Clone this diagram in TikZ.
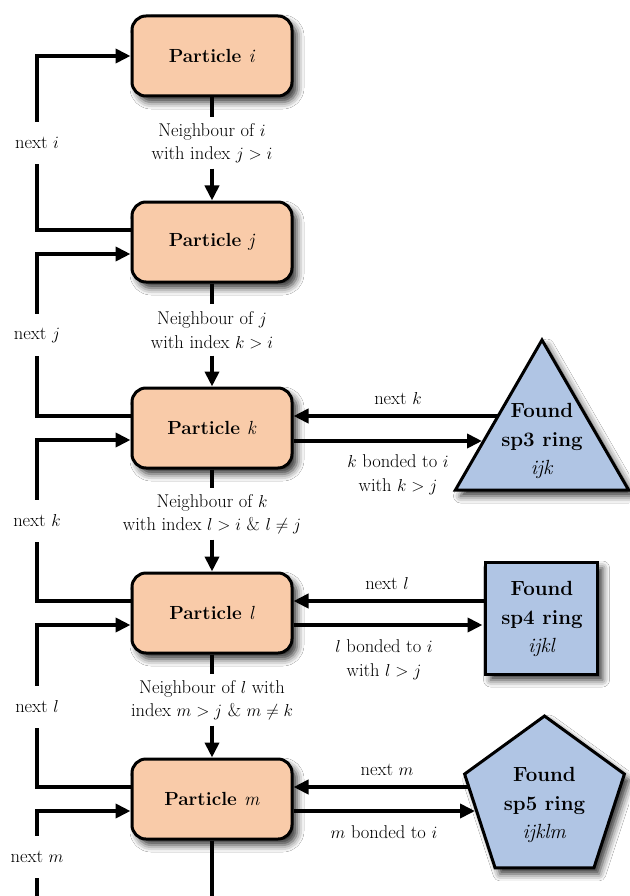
\documentclass[tikz,border=0pt]{standalone}
\usetikzlibrary{arrows.meta,shapes.geometric,calc,shadows.blur}
\definecolor{peach}{RGB}{249,203,169}
\definecolor{ringblue}{RGB}{176,197,228}
\newcommand{\mi}[1]{\textmd{\textit{#1}}}
\begin{document}
\begin{tikzpicture}[x=1pt,y=-1pt,
  shad/.style={blur shadow={shadow xshift=5pt, shadow yshift=-6pt, shadow blur radius=7pt, shadow opacity=80}},
  box/.style={draw=black, line width=3pt, fill=peach, rounded corners=14pt, minimum width=160pt, minimum height=80pt, inner sep=0pt, font=\fontsize{19}{23}\selectfont\bfseries, shad},
  ring/.style={draw=black, line width=3pt, fill=ringblue, inner sep=0pt, shad},
  ringtext/.style={font=\fontsize{20.5}{28.5}\selectfont, align=center, inner sep=0pt},
  lbl/.style={font=\fontsize{18.5}{23.5}\selectfont, align=center, inner xsep=2pt},
  nxt/.style={font=\fontsize{18.5}{23.5}\selectfont, inner sep=0pt, minimum height=42pt},
  ln/.style={line width=4pt},
  arr/.style={line width=4pt, -{Triangle[length=15pt,width=14pt]}}
]
\fill[white] (0,0) rectangle (629,896);
\useasboundingbox (0,0) rectangle (629,896);

% particle boxes
\node[box] (i) at (212,56) {Particle \mi{i}};
\node[box] (j) at (212,242) {Particle \mi{j}};
\node[box] (k) at (212,428) {Particle \mi{k}};
\node[box] (l) at (212,613) {Particle \mi{l}};
\node[box] (m) at (212,799) {Particle \mi{m}};

% ring shapes
\node[ring, regular polygon, regular polygon sides=3, minimum size=200pt] (t3) at (542,440) {};
\node[ringtext] (t3t) at (542,441) {\textbf{Found}\\\textbf{sp3 ring}\\\textit{ijk}};
\node[ring, rectangle, minimum size=112pt] (s4) at (541.5,618) {};
\node[ringtext] (s4t) at (542,619) {\textbf{Found}\\\textbf{sp4 ring}\\\textit{ijkl}};
\node[ring, regular polygon, regular polygon sides=5, minimum size=168pt] (p5) at (544.5,800) {};
\node[ringtext] (p5t) at (544.5,805) {\textbf{Found}\\\textbf{sp5 ring}\\\textit{ijklm}};

% down labels
\node[lbl, minimum height=51pt] (d1) at (212,143) {Neighbour of $i$\\with index $j>i$};
\node[lbl, minimum height=51pt] (d2) at (212,330) {Neighbour of $j$\\with index $k>i$};
\node[lbl, minimum height=51pt] (d3) at (212,514) {Neighbour of $k$\\with index $l>i$ \& $l\neq j$};
\node[lbl, minimum height=51pt] (d4) at (212,700) {Neighbour of $l$ with\\index $m>j$ \& $m\neq k$};
\coordinate (bot) at (212,896);

\draw[ln] (i.south) -- (d1.north);
\draw[arr] (d1.south) -- (j.north);
\draw[ln] (j.south) -- (d2.north);
\draw[arr] (d2.south) -- (k.north);
\draw[ln] (k.south) -- (d3.north);
\draw[arr] (d3.south) -- (l.north);
\draw[ln] (l.south) -- (d4.north);
\draw[arr] (d4.south) -- (m.north);
\draw[ln] (m.south) -- (bot);

% left loops
\node[nxt] (n1) at (37,143) {next $i$};
\node[nxt] (n2) at (37,335) {next $j$};
\node[nxt] (n3) at (37,521) {next $k$};
\node[nxt] (n4) at (37,707) {next $l$};
\node[nxt] (n5) at (37,857) {next $m$};
\coordinate (yj1) at (0,230);
\coordinate (yj2) at (0,254);
\coordinate (yk1) at (0,416);
\coordinate (yk2) at (0,440);
\coordinate (yl1) at (0,601);
\coordinate (yl2) at (0,625);
\coordinate (ym1) at (0,787);
\coordinate (ym2) at (0,811);
\coordinate (lbot) at (37,896);

\draw[ln] (j.west |- yj1) -| (n1.south);
\draw[arr] (n1.north) |- (i.west);
\draw[ln] (k.west |- yk1) -| (n2.south);
\draw[arr] (n2.north) |- (j.west |- yj2);
\draw[ln] (l.west |- yl1) -| (n3.south);
\draw[arr] (n3.north) |- (k.west |- yk2);
\draw[ln] (m.west |- ym1) -| (n4.south);
\draw[arr] (n4.north) |- (l.west |- yl2);
\draw[ln] (lbot) -- (n5.south);
\draw[arr] (n5.north) |- (m.west |- ym2);

% right side connectors
\coordinate (t3a) at (498,416);
\coordinate (t3b) at (482,441);
\coordinate (p5a) at (469,787);
\coordinate (p5b) at (475,811);
\draw[arr] (t3a) -- (k.east |- t3a);
\draw[arr] (k.east |- t3b) -- (t3b);
\draw[arr] (s4.west |- yl1) -- (l.east |- yl1);
\draw[arr] (l.east |- yl2) -- ($(s4.west |- yl2)+(-1.5,0)$);
\draw[arr] (p5a) -- (m.east |- p5a);
\draw[arr] (m.east |- p5b) -- (p5b);

\node[lbl] (rk1) at (398,399) {next $k$};
\node[lbl] (rk2) at (398,475) {$k$ bonded to $i$\\with $k>j$};
\node[lbl] (rl1) at (387,584) {next $l$};
\node[lbl] (rl2) at (384,660) {$l$ bonded to $i$\\with $l>j$};
\node[lbl] (rm1) at (387,770) {next $m$};
\node[lbl] (rm2) at (384,832) {$m$ bonded to $i$};
\end{tikzpicture}
\end{document}
